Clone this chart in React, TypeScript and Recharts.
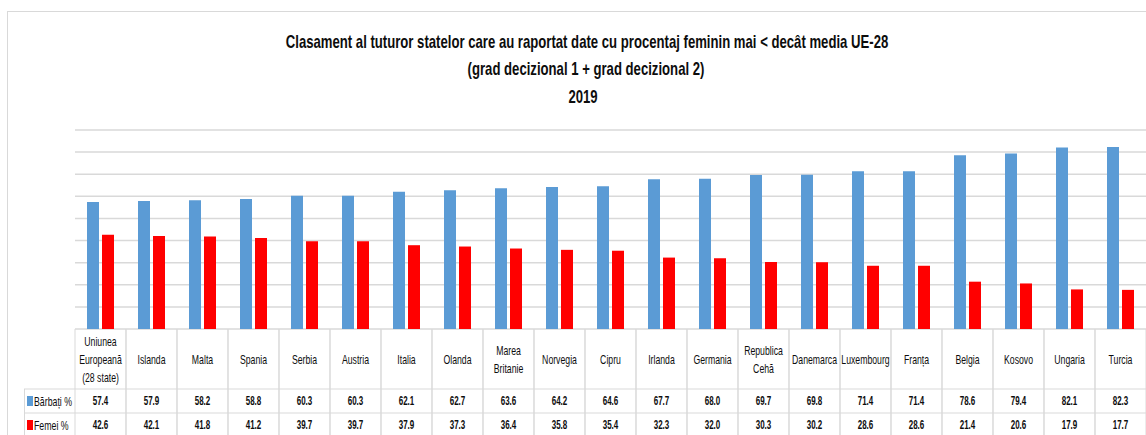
import { BarChart, Bar, XAxis, YAxis, CartesianGrid } from 'recharts'

const categories = [
  'Uniunea\nEuropeană\n(28 state)',
  'Islanda',
  'Malta',
  'Spania',
  'Serbia',
  'Austria',
  'Italia',
  'Olanda',
  'Marea\nBritanie',
  'Norvegia',
  'Cipru',
  'Irlanda',
  'Germania',
  'Republica\nCehă',
  'Danemarca',
  'Luxembourg',
  'Franța',
  'Belgia',
  'Kosovo',
  'Ungaria',
  'Turcia',
]

const barbati = [57.4, 57.9, 58.2, 58.8, 60.3, 60.3, 62.1, 62.7, 63.6, 64.2, 64.6, 67.7, 68.0, 69.7, 69.8, 71.4, 71.4, 78.6, 79.4, 82.1, 82.3]
const femei = [42.6, 42.1, 41.8, 41.2, 39.7, 39.7, 37.9, 37.3, 36.4, 35.8, 35.4, 32.3, 32.0, 30.3, 30.2, 28.6, 28.6, 21.4, 20.6, 17.9, 17.7]

const yTicks = [0, 10, 20, 30, 40, 50, 60, 70, 80, 90]

const seriesNames = ['Bărbați %', 'Femei %']
const titleLines = [
  'Clasament al tuturor statelor care au raportat date cu procentaj feminin mai < decât media UE-28',
  '(grad decizional 1 + grad decizional 2)',
  '2019',
]

const data = categories.map((name, i) => ({ name, barbati: barbati[i], femei: femei[i] }))

const FONT = "'Liberation Sans', Arial, sans-serif"
const BLUE = '#5b9bd5'
const RED = '#ff0000'
const LINE = '#d9d9d9'

const W = 1146
const H = 435
const COL = 51
const TABLE_TOP = 329
const ROW1 = 389
const ROW2 = 413

// narrow text: Liberation Sans squeezed horizontally, close to the condensed Calibri look
function Narrow({ x, y, children, size = 12, bold = false, anchor = 'middle', sx = 0.75 }: any) {
  return (
    <text
      transform={`translate(${x},${y}) scale(${sx},1)`}
      textAnchor={anchor}
      dominantBaseline="central"
      fontFamily={FONT}
      fontSize={size}
      fontWeight={bold ? 'bold' : 'normal'}
      fill="#0d0d0d"
    >
      {children}
    </text>
  )
}

// one table column per category, drawn as the x axis tick
function TableColumn(props: any) {
  const { x, payload, index } = props
  const lines = String(payload.value).split('\n')
  const mid = 359
  const step = 18
  const start = mid - ((lines.length - 1) * step) / 2
  return (
    <g>
      <line x1={x - COL / 2} x2={x - COL / 2} y1={TABLE_TOP} y2={H} stroke={LINE} />
      <line x1={x + COL / 2} x2={x + COL / 2} y1={TABLE_TOP} y2={H} stroke={LINE} />
      {lines.map((l, i) => (
        <Narrow key={i} x={x} y={start + i * step} size={13} sx={0.67}>{l}</Narrow>
      ))}
      <Narrow x={x} y={401} size={12.5} bold sx={0.64}>{barbati[index].toFixed(1)}</Narrow>
      <Narrow x={x} y={425} size={12.5} bold sx={0.64}>{femei[index].toFixed(1)}</Narrow>
    </g>
  )
}

export default function App() {
  return (
    <div style={{ position: 'absolute', left: 0, top: 0, width: W, height: H, background: '#fff', overflow: 'hidden' }}>
      <BarChart
        width={W}
        height={H}
        data={data}
        margin={{ top: 130, right: 0, bottom: 76, left: 75 }}
        barSize={12}
        barGap={3}
      >
        <CartesianGrid vertical={false} stroke={LINE} strokeWidth={1.5} />
        <YAxis hide domain={[0, 90]} ticks={yTicks} interval={0} />
        <XAxis
          dataKey="name"
          height={30}
          axisLine={false}
          tickLine={false}
          interval={0}
          tick={<TableColumn />}
        />
        <Bar dataKey="barbati" name={seriesNames[0]} fill={BLUE} isAnimationActive={false} />
        <Bar dataKey="femei" name={seriesNames[1]} fill={RED} isAnimationActive={false} />
      </BarChart>

      <svg width={W} height={H} style={{ position: 'absolute', left: 0, top: 0, pointerEvents: 'none' }}>
        {/* chart frame */}
        <rect x={7.5} y={11.5} width={W} height={H} fill="none" stroke={LINE} />
        {/* title */}
        <Narrow x={587} y={42} size={18} bold sx={0.73}>{titleLines[0]}</Narrow>
        <Narrow x={586} y={69} size={18} bold sx={0.73}>{titleLines[1]}</Narrow>
        <Narrow x={583} y={97} size={18} bold sx={0.73}>{titleLines[2]}</Narrow>
        {/* table rows and legend column */}
        <line x1={24} x2={W} y1={ROW1} y2={ROW1} stroke={LINE} />
        <line x1={24} x2={W} y1={ROW2} y2={ROW2} stroke={LINE} />
        <line x1={24.5} x2={24.5} y1={ROW1} y2={H} stroke={LINE} />
        <rect x={27} y={396} width={6} height={10} fill={BLUE} />
        <Narrow x={34} y={401} size={13} anchor="start" sx={0.675}>{seriesNames[0]}</Narrow>
        <rect x={27} y={420} width={6} height={10} fill={RED} />
        <Narrow x={34} y={425} size={13} anchor="start" sx={0.675}>{seriesNames[1]}</Narrow>
      </svg>
    </div>
  )
}
